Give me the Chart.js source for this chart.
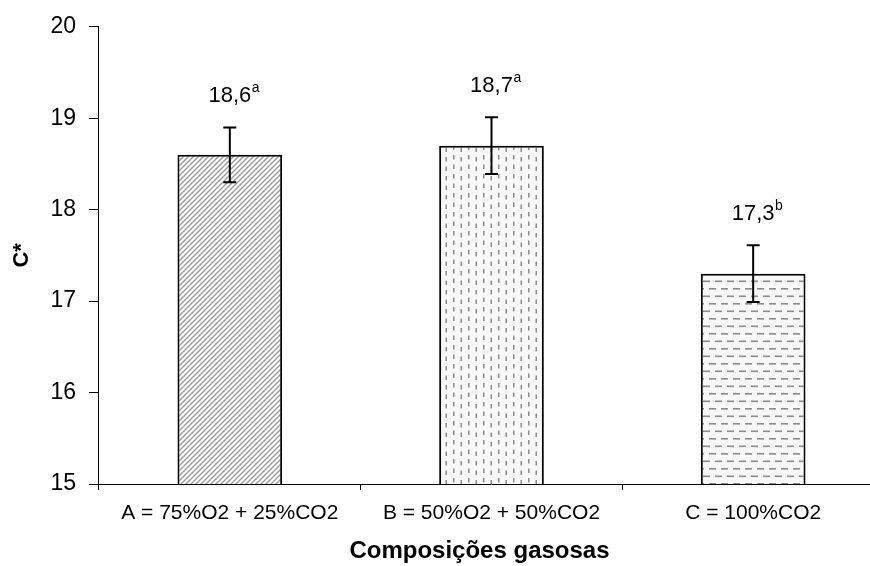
<!DOCTYPE html>
<html>
<head>
<meta charset="utf-8">
<script src="https://cdn.jsdelivr.net/npm/chart.js@4"></script>
<style>
  html, body { margin: 0; padding: 0; background: #fff; overflow: hidden; }
  #wrap { width: 870px; height: 566px; overflow: hidden; }
  #grafico { display: block; }
</style>
</head>
<body>
<div id="wrap"><canvas id="grafico" width="884" height="566"></canvas></div>
<script>
const categorias = ["A = 75%O2 + 25%CO2", "B = 50%O2 + 50%CO2", "C = 100%CO2"];
const valores = [18.6, 18.7, 17.3];
const desvios = [0.3, 0.31, 0.31];
const letras = ["a", "a", "b"];
const rotulos = ["18,6", "18,7", "17,3"];

const FONTE = "'Liberation Sans', Arial, sans-serif";

// tramas de preenchimento das barras
function tramaDiagonal() {
  const c = document.createElement("canvas");
  c.width = 5; c.height = 5;
  const g = c.getContext("2d");
  g.fillStyle = "#fff"; g.fillRect(0, 0, 5, 5);
  g.strokeStyle = "#9a9a9a"; g.lineWidth = 1.4;
  g.beginPath();
  g.moveTo(-1, 6); g.lineTo(6, -1);
  g.moveTo(-3.5, 3.5); g.lineTo(3.5, -3.5);
  g.moveTo(1.5, 8.5); g.lineTo(8.5, 1.5);
  g.stroke();
  return g.createPattern(c, "repeat");
}

function tramaVertical() {
  const c = document.createElement("canvas");
  c.width = 15; c.height = 19;
  const g = c.getContext("2d");
  g.fillStyle = "#f8f8f8"; g.fillRect(0, 0, 15, 19);
  g.fillStyle = "#8c8c8c";
  g.fillRect(3, 3, 1.5, 4.5);
  g.fillRect(10.5, 5, 1.5, 4.5);
  g.fillRect(3, 12.5, 1.5, 4.5);
  g.fillRect(10.5, 14.5, 1.5, 4.5);
  return g.createPattern(c, "repeat");
}

function tramaHorizontal() {
  const c = document.createElement("canvas");
  c.width = 12; c.height = 15;
  const g = c.getContext("2d");
  g.fillStyle = "#f8f8f8"; g.fillRect(0, 0, 12, 15);
  g.fillStyle = "#8c8c8c";
  g.fillRect(1, 3, 7, 1.6);
  g.fillRect(7, 10.5, 7, 1.6);
  g.fillRect(-5, 10.5, 7, 1.6);
  return g.createPattern(c, "repeat");
}

// barras de erro e rótulos com letra sobrescrita
const barrasErro = {
  id: "barrasErro",
  afterDatasetsDraw(chart) {
    const ctx = chart.ctx;
    const y = chart.scales.y;
    const meta = chart.getDatasetMeta(0);
    ctx.save();
    meta.data.forEach((bar, i) => {
      const x = bar.x;
      const topo = y.getPixelForValue(valores[i] + desvios[i]);
      const base = y.getPixelForValue(valores[i] - desvios[i]);
      ctx.strokeStyle = "#000";
      ctx.lineWidth = 2;
      ctx.beginPath();
      ctx.moveTo(x, topo); ctx.lineTo(x, base);
      ctx.moveTo(x - 6.5, topo); ctx.lineTo(x + 6.5, topo);
      ctx.moveTo(x - 6.5, base); ctx.lineTo(x + 6.5, base);
      ctx.stroke();

      ctx.fillStyle = "#000";
      ctx.textBaseline = "middle";
      ctx.textAlign = "left";
      ctx.font = "22px " + FONTE;
      const w = ctx.measureText(rotulos[i]).width;
      const ty = topo - 31;
      ctx.fillText(rotulos[i], x - w / 2, ty);
      ctx.font = "14px " + FONTE;
      ctx.fillText(letras[i], x + w / 2 + 0.5, ty - 8);
    });
    ctx.restore();
  }
};

new Chart(document.getElementById("grafico"), {
  type: "bar",
  data: {
    labels: categorias,
    datasets: [{
      data: valores,
      backgroundColor: [tramaDiagonal(), tramaVertical(), tramaHorizontal()],
      borderColor: "#000",
      borderWidth: 2,
      borderSkipped: "bottom",
      barPercentage: 0.4,
      categoryPercentage: 1
    }]
  },
  options: {
    responsive: false,
    animation: false,
    layout: { padding: { top: 16, right: 0, left: 0, bottom: 0 } },
    plugins: {
      legend: { display: false },
      tooltip: { enabled: false }
    },
    scales: {
      y: {
        min: 15,
        max: 20,
        ticks: {
          stepSize: 1,
          color: "#000",
          padding: 13,
          font: { family: FONTE, size: 23 }
        },
        grid: { drawOnChartArea: false, color: "#000", tickLength: 10 },
        border: { color: "#000", width: 1 },
        title: {
          display: true,
          text: "C*",
          color: "#000",
          padding: { top: 9, bottom: 2 },
          font: { family: FONTE, size: 22, weight: "bold" }
        }
      },
      x: {
        ticks: {
          color: "#000",
          padding: 11,
          font: { family: FONTE, size: 21 }
        },
        grid: { drawOnChartArea: false, color: "#000", tickLength: 6, offset: true },
        border: { color: "#000", width: 1 },
        title: {
          display: true,
          text: "Composições gasosas\u2002\u2002",
          color: "#000",
          padding: { top: 0, bottom: 0 },
          font: { family: FONTE, size: 24, weight: "bold" }
        }
      }
    }
  },
  plugins: [barrasErro]
});
</script>
</body>
</html>
